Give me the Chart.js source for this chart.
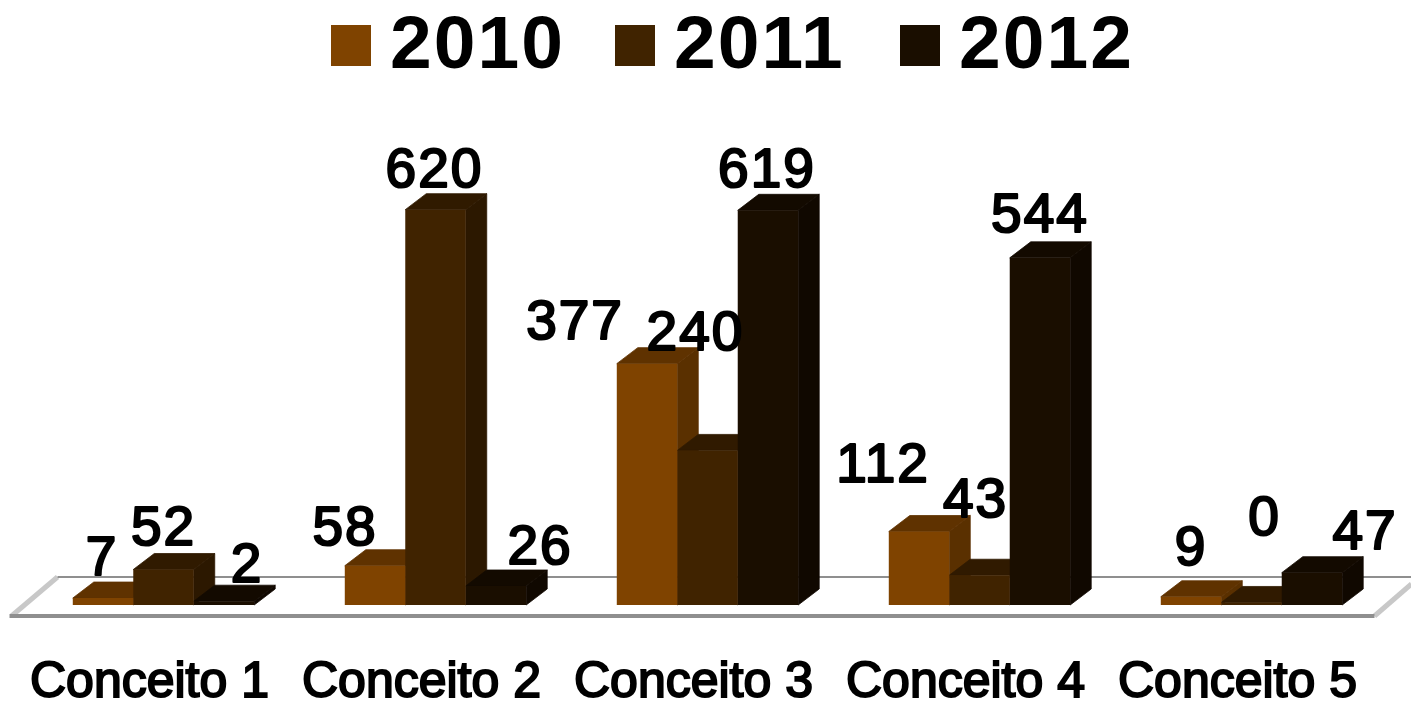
<!DOCTYPE html>
<html><head><meta charset="utf-8">
<style>html,body{margin:0;padding:0;background:#fff}canvas{display:block}</style>
<script src="https://cdn.jsdelivr.net/npm/chart.js@4"></script>
</head><body><canvas id="c" width="1411" height="701"></canvas>
<script>
const categories = ["Conceito 1","Conceito 2","Conceito 3","Conceito 4","Conceito 5"];
const seriesNames = ["2010","2011","2012"];
const values2010 = [7,58,377,112,9];
const values2011 = [52,620,240,43,0];
const values2012 = [2,26,619,544,47];
const frontColors = ["#7f4300","#402300","#1a0e00"];
const topColors = ["#5f3200","#301a00","#130a00"];
const sideColors = ["#5a3000","#2c1800","#100800"];
const labelOffsetX = [[-1,-30,-72,-36,0],[0,-1,-12,-4,13],[23,44,-1,0,53]];
const labelOffsetY = [[-38,-35.5,-40,-65,-46.5],[-39.5,-37.6,-115.5,-73,-82.5],[-34.5,-37.5,-38.6,-41.4,-38.5]];
const DEPTH_X = 21, DEPTH_Y = 16;

function poly(ctx, pts, fill){
  ctx.beginPath();
  pts.forEach((p,i)=> i?ctx.lineTo(p[0],p[1]):ctx.moveTo(p[0],p[1]));
  ctx.closePath();
  ctx.fillStyle = fill; ctx.strokeStyle = fill; ctx.lineWidth = 0.8;
  ctx.fill(); ctx.stroke();
}
const depthPlugin = {
  id:"depth",
  beforeDatasetsDraw(chart){
    const ctx = chart.ctx, a = chart.chartArea;
    const fy = a.bottom + 11, by = a.bottom - 28;
    const fl = a.left - 18, fr = a.right - 13, bl = fl + 48, br = a.right + 24;
    ctx.save();
    ctx.lineCap = "butt";
    ctx.strokeStyle = "#c8c8c8"; ctx.lineWidth = 5;
    ctx.beginPath(); ctx.moveTo(fl+2,fy); ctx.lineTo(bl,by); ctx.stroke();
    ctx.beginPath(); ctx.moveTo(fr,fy); ctx.lineTo(br,by+7); ctx.stroke();
    ctx.strokeStyle = "#8f8f8f";
    ctx.lineWidth = 2; ctx.beginPath(); ctx.moveTo(bl,by); ctx.lineTo(br,by); ctx.stroke();
    ctx.lineWidth = 4; ctx.beginPath(); ctx.moveTo(fl,fy); ctx.lineTo(fr,fy); ctx.stroke();
    for(let c=0;c<categories.length;c++){
      chart.data.datasets.forEach((ds,i)=>{
        const b = chart.getDatasetMeta(i).data[c];
        const h = b.getProps(["x","y","base","width"],true);
        const l = h.x-h.width/2, r = h.x+h.width/2;
        poly(ctx,[[r,h.y],[r+DEPTH_X,h.y-DEPTH_Y],[r+DEPTH_X,h.base-DEPTH_Y],[r,h.base]],sideColors[i]);
        poly(ctx,[[l,h.y],[r,h.y],[r+DEPTH_X,h.y-DEPTH_Y],[l+DEPTH_X,h.y-DEPTH_Y]],topColors[i]);
      });
    }
    ctx.restore();
  },
  afterDatasetsDraw(chart){
    const ctx = chart.ctx;
    ctx.save();
    ctx.font = "55px 'Liberation Sans'";
    ctx.letterSpacing = "2px";
    ctx.textAlign = "center"; ctx.textBaseline = "middle";
    ctx.fillStyle = "#000"; ctx.strokeStyle = "#000"; ctx.lineWidth = 2.2;
    ctx.lineJoin = "round";
    chart.data.datasets.forEach((ds,i)=>{
      chart.getDatasetMeta(i).data.forEach((b,c)=>{
        const x = b.x+labelOffsetX[i][c], y = b.y+labelOffsetY[i][c];
        const t = String(ds.data[c]);
        ctx.fillText(t,x,y); ctx.strokeText(t,x,y);
      });
    });
    ctx.restore();
    ctx.save();
    ctx.font = "bold 75px 'Liberation Sans'";
    ctx.letterSpacing = "2px";
    ctx.textBaseline = "middle"; ctx.textAlign = "left";
    const legX = [331,615,900], swatch = 40;
    seriesNames.forEach((n,i)=>{
      ctx.fillStyle = frontColors[i];
      ctx.fillRect(legX[i],25,swatch,41);
      ctx.fillStyle = "#000";
      ctx.fillText(n,legX[i]+swatch+19,47);
    });
    ctx.restore();
  }
};
new Chart(document.getElementById("c"),{
  type:"bar",
  data:{labels:categories,datasets:[
    {label:seriesNames[0],data:values2010,backgroundColor:frontColors[0],base:-4},
    {label:seriesNames[1],data:values2011,backgroundColor:frontColors[1],base:-4},
    {label:seriesNames[2],data:values2012,backgroundColor:frontColors[2],base:-4}
  ]},
  plugins:[depthPlugin],
  options:{
    responsive:false,animation:false,devicePixelRatio:1,
    layout:{padding:{left:27.5,right:23.5,top:159,bottom:0}},
    datasets:{bar:{categoryPercentage:0.667,barPercentage:1,borderWidth:0}},
    plugins:{legend:{display:false},tooltip:{enabled:false},title:{display:false}},
    scales:{
      y:{display:false,min:-4,max:700},
      x:{
        afterFit(s){s.height=96;s.paddingLeft=0;s.paddingRight=0;},
        border:{display:false},
        grid:{display:false,drawTicks:false},
        ticks:{color:"#000",padding:48,labelOffset:-14,maxRotation:0,autoSkip:false,
          font:{family:"'Liberation Sans'",size:50,weight:"normal"},
          textStrokeColor:"#000",textStrokeWidth:2}
      }
    }
  }
});
</script></body></html>
